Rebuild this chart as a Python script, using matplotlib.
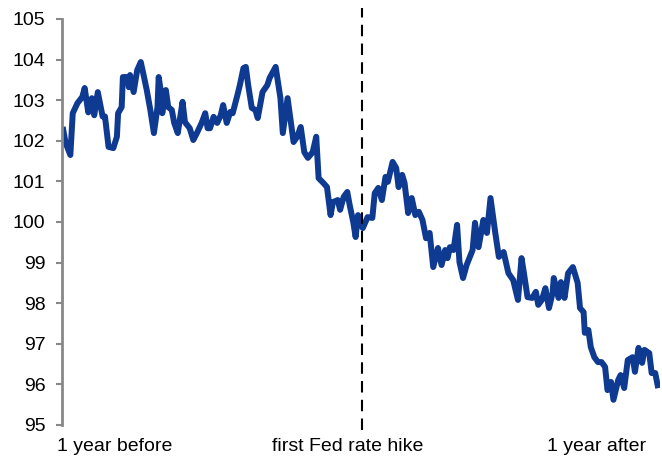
import matplotlib.pyplot as plt
import numpy as np

plt.rcParams['font.family'] = ['Liberation Sans', 'DejaVu Sans']

# trading days relative to the first Fed rate hike, and the index level
days = [-250, -248, -244, -242, -238, -234, -232, -229, -226, -224, -221, -217, -215,
        -212, -208, -205, -204, -201, -200, -196, -195, -194, -191, -188, -185, -183,
        -180, -177, -174, -171, -170, -168, -167, -164, -162, -159, -157, -154, -150,
        -148, -144, -141, -138, -134, -131, -129, -127, -124, -121, -118, -116, -113,
        -110, -108, -104, -102, -99, -97, -95, -92, -89, -87, -83, -79, -77, -72, -68,
        -66, -62, -57, -54, -51, -48, -45, -41, -38, -36, -32, -29, -26, -24, -20, -18,
        -15, -12, -10, -7, -5, -3, -1, 1, 5, 9, 11, 14, 17, 20, 22, 26, 29, 31, 34, 36,
        39, 42, 45, 48, 51, 54, 57, 60, 64, 67, 70, 72, 74, 77, 80, 82, 85, 88, 93, 95,
        98, 102, 105, 108, 112, 115, 119, 123, 127, 131, 134, 136, 139, 143, 146, 148,
        151, 154, 157, 160, 161, 165, 167, 170, 173, 177, 181, 183, 186, 187, 190, 192,
        195, 198, 201, 204, 206, 209, 211, 215, 217, 220, 223, 227, 229, 232, 235, 237,
        241, 243, 246, 248]
level = [102.27, 101.95, 101.65, 102.68, 102.93, 103.08, 103.30, 102.70, 103.05, 102.63,
         103.20, 102.60, 102.60, 101.85, 101.82, 102.10, 102.68, 102.83, 103.57, 103.57,
         103.32, 103.62, 103.20, 103.74, 103.94, 103.67, 103.25, 102.76, 102.19, 102.83,
         103.57, 103.18, 102.68, 103.25, 102.83, 102.76, 102.44, 102.19, 102.96, 102.46,
         102.31, 102.02, 102.19, 102.44, 102.68, 102.31, 102.31, 102.59, 102.44, 102.63,
         102.88, 102.44, 102.71, 102.68, 103.13, 103.37, 103.79, 103.82, 103.37, 102.81,
         102.76, 102.56, 103.20, 103.37, 103.55, 103.82, 103.05, 102.19, 103.05, 101.97,
         102.10, 102.34, 101.72, 101.58, 101.72, 102.10, 101.08, 100.96, 100.86, 100.17,
         100.49, 100.54, 100.30, 100.62, 100.74, 100.42, 100.00, 99.63, 100.17, 99.98,
         99.85, 100.12, 100.10, 100.71, 100.84, 100.54, 101.11, 100.99, 101.48, 101.33,
         100.86, 101.16, 100.96, 100.22, 100.59, 100.17, 100.25, 100.05, 99.60, 99.73,
         98.89, 99.36, 98.94, 99.31, 99.11, 99.38, 99.31, 99.93, 99.01, 98.62, 98.94,
         99.31, 99.98, 99.38, 100.05, 99.73, 100.59, 99.73, 99.14, 99.26, 98.74, 98.57,
         98.08, 99.11, 98.74, 98.15, 98.13, 98.28, 97.96, 98.08, 98.37, 97.88, 98.25,
         98.62, 98.13, 98.52, 98.13, 98.74, 98.89, 98.50, 97.88, 97.78, 97.27, 97.34,
         96.92, 96.67, 96.55, 96.55, 96.43, 95.86, 96.06, 95.62, 96.11, 96.23, 95.91,
         96.60, 96.67, 96.31, 96.90, 96.53, 96.85, 96.77, 96.28, 96.28, 95.98]

x_labels = ["1 year before", "first Fed rate hike", "1 year after"]
label_pos = [-255, -12, 197]

fig = plt.figure(figsize=(6.62, 4.57), dpi=100)
ax = fig.add_axes([62 / 662, 1 - 425 / 457, 598 / 662, 406 / 457])

ax.plot(days, level, color="#0f3a92", lw=4.3, solid_joinstyle="round")
ax.plot([0, 0], [94.88, 105.27], color="black", lw=1.5, ls=(0, (5.5, 3.5)), clip_on=False)

ax.set_xlim(-251, 250)
ax.set_ylim(95, 105)
ax.set_yticks(np.arange(95, 106, 1))
ax.set_xticks([])
for s in ["top", "right", "bottom"]:
    ax.spines[s].set_visible(False)
ax.spines["left"].set_color("#888888")
ax.spines["left"].set_linewidth(2)
ax.tick_params(axis="y", colors="#888888", length=4, width=1.5, pad=8,
               labelcolor="black", labelsize=14)

trans = ax.get_xaxis_transform()
ax.text(label_pos[0], -0.033, x_labels[0], transform=trans, ha="left", va="top", fontsize=14)
ax.text(label_pos[1], -0.033, x_labels[1], transform=trans, ha="center", va="top", fontsize=14)
ax.text(label_pos[2], -0.033, x_labels[2], transform=trans, ha="center", va="top", fontsize=14)

plt.savefig("out.png")
